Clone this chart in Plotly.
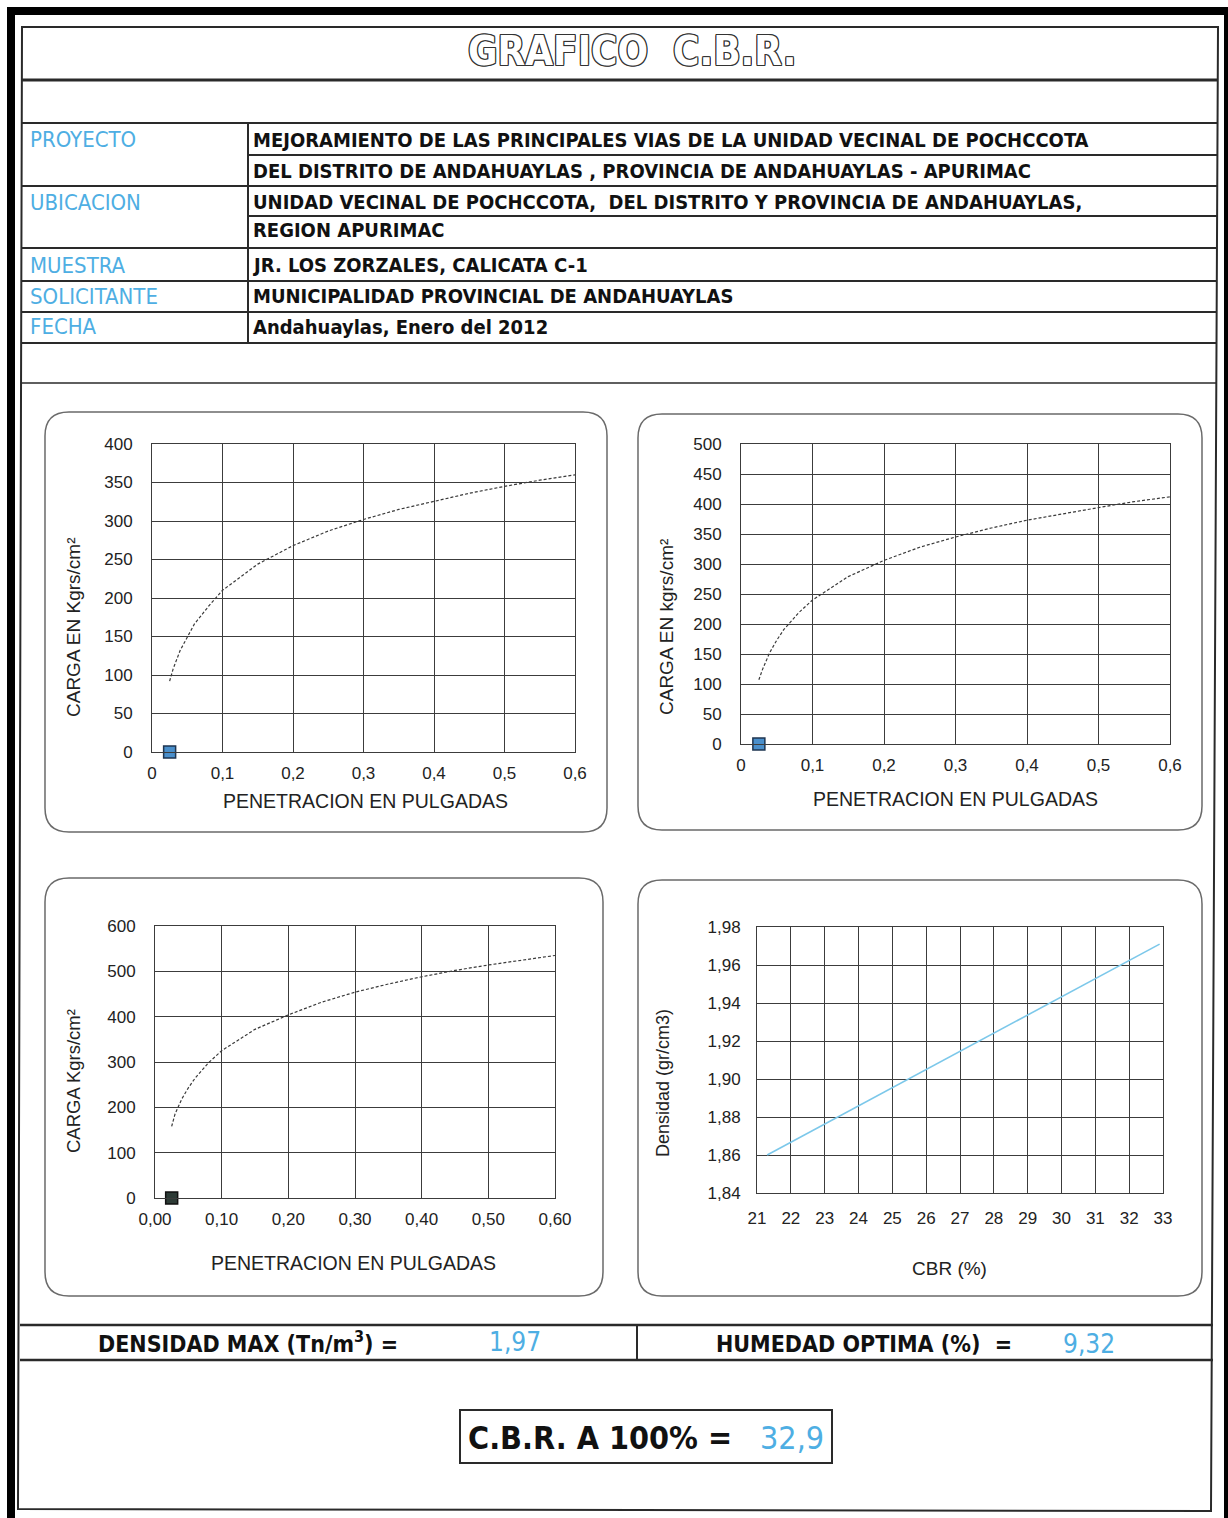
import plotly.graph_objects as go

# ---------------- data ----------------
pen_x = [0.025, 0.03, 0.04, 0.05, 0.06, 0.08, 0.10, 0.15, 0.20, 0.25, 0.30, 0.35, 0.40, 0.45, 0.50, 0.55, 0.60]
carga_1 = [92, 108, 132, 150, 166, 189, 210, 244, 268, 287, 302, 315, 326, 336, 345, 353, 360]
carga_2 = [107, 124, 152, 173, 191, 218, 240, 279, 306, 328, 345, 360, 373, 384, 394, 404, 412]
carga_3 = [158, 185, 218, 243, 264, 298, 325, 372, 404, 432, 454, 472, 488, 502, 514, 525, 535]
punto_x = [0.025]
punto_y = [0]
cbr_x = [21.3, 32.9]
dens_y = [1.860, 1.971]

ticks_pen = [0, 0.1, 0.2, 0.3, 0.4, 0.5, 0.6]
ticks_c1 = [0, 50, 100, 150, 200, 250, 300, 350, 400]
ticks_c2 = [0, 50, 100, 150, 200, 250, 300, 350, 400, 450, 500]
ticks_c3 = [0, 100, 200, 300, 400, 500, 600]
ticks_cbr = list(range(21, 34))
ticks_dens = [1.84, 1.86, 1.88, 1.90, 1.92, 1.94, 1.96, 1.98]

proyecto_1 = "MEJORAMIENTO DE LAS PRINCIPALES VIAS DE LA UNIDAD VECINAL DE POCHCCOTA"
proyecto_2 = "DEL DISTRITO DE ANDAHUAYLAS , PROVINCIA DE ANDAHUAYLAS - APURIMAC"
ubicacion_1 = "UNIDAD VECINAL DE POCHCCOTA,  DEL DISTRITO Y PROVINCIA DE ANDAHUAYLAS,"
ubicacion_2 = "REGION APURIMAC"
muestra = "JR. LOS ZORZALES, CALICATA C-1"
solicitante = "MUNICIPALIDAD PROVINCIAL DE ANDAHUAYLAS"
fecha = "Andahuaylas, Enero del 2012"
densidad_max = "1,97"
humedad_optima = "9,32"
cbr_100 = "32,9"

# ---------------- helpers ----------------
W, H = 1228, 1518
def X(px):
    return px / W
def Y(py):
    return 1 - py / H

NARROW = "Liberation Sans Narrow, DejaVu Sans Condensed, Liberation Sans, Arial"
ARIAL = "Liberation Sans, Arial"
BLUE = "#4eaee3"
GRID = "#3c3c3c"
INK = "#2a2a2a"

shapes = []
annotations = []

def line(x0, y0, x1, y1, color=INK, width=2):
    shapes.append(dict(type="line", xref="paper", yref="paper",
                       x0=X(x0), y0=Y(y0), x1=X(x1), y1=Y(y1),
                       line=dict(color=color, width=width)))

def rect(x0, y0, x1, y1, color=INK, width=2):
    shapes.append(dict(type="rect", xref="paper", yref="paper",
                       x0=X(x0), y0=Y(y0), x1=X(x1), y1=Y(y1),
                       line=dict(color=color, width=width)))

def p(a, b):
    return f"{X(a):.5f},{Y(b):.5f}"

def poly(pts, color=INK, width=2):
    path = "M " + " L ".join(p(a, b) for a, b in pts) + " Z"
    shapes.append(dict(type="path", xref="paper", yref="paper", path=path,
                       line=dict(color=color, width=width)))

def rrect(x0, y0, x1, y1, r=24, color="#6a6a6a", width=1.5):
    path = (f"M {p(x0+r, y0)} L {p(x1-r, y0)} Q {p(x1, y0)} {p(x1, y0+r)} "
            f"L {p(x1, y1-r)} Q {p(x1, y1)} {p(x1-r, y1)} "
            f"L {p(x0+r, y1)} Q {p(x0, y1)} {p(x0, y1-r)} "
            f"L {p(x0, y0+r)} Q {p(x0, y0)} {p(x0+r, y0)} Z")
    shapes.append(dict(type="path", xref="paper", yref="paper", path=path,
                       line=dict(color=color, width=width)))

def text(x, y, s, size=16, color="#111", family=ARIAL, anchor="left", weight="normal",
         angle=0, shadow=None):
    f = dict(size=size, color=color, family=family, weight=weight)
    if shadow:
        f["shadow"] = shadow
    annotations.append(dict(x=X(x), y=Y(y), xref="paper", yref="paper", text=s,
                            showarrow=False, xanchor=anchor, yanchor="middle",
                            textangle=angle, font=f))

# ---------------- frame ----------------
line(7, 11, W, 11, color="#000", width=8)
line(11, 7, 11, H, color="#000", width=8)
line(1226, 7, 1226, H, color="#000", width=4)
poly([(22, 27), (1218, 27), (1211, 1511), (18, 1509)], width=2)
line(22, 80, 1217, 80, width=3)

text(632, 51, "GRAFICO\u00a0\u00a0C.B.R.", size=40, color="#ffffff", family=NARROW,
     anchor="center", weight="bold",
     shadow="1px 0 0 #333, -1px 0 0 #333, 0 1px 0 #333, 0 -1px 0 #333, 1px 1px 0 #333, -1px -1px 0 #333, 1px -1px 0 #333, -1px 1px 0 #333")

# ---------------- info table ----------------
for yy in [123, 186, 248, 281, 312, 343]:
    line(22, yy, 1217, yy, width=2)
for yy in [155, 216]:
    line(248, yy, 1217, yy, width=2)
line(248, 123, 248, 343, width=2)

for lab, yy in [("PROYECTO", 140), ("UBICACION", 202), ("MUESTRA", 265),
                ("SOLICITANTE", 296), ("FECHA", 327)]:
    text(28, yy, lab, size=22, color=BLUE, family=NARROW)

for s, yy in [(proyecto_1, 140), (proyecto_2, 171), (ubicacion_1, 202), (ubicacion_2, 230),
              (muestra, 265), (solicitante, 296), (fecha, 327)]:
    text(251, yy, s, size=20, color="#111", family=NARROW, weight="bold")

# charts area
line(22, 383, 1217, 383, width=1.5)
rrect(45, 412, 607, 832)
rrect(638, 414, 1202, 830)
rrect(45, 878, 603, 1296)
rrect(638, 880, 1202, 1296)

# ---------------- bottom section ----------------
line(20, 1325, 1213, 1325, width=2.5)
line(20, 1360, 1213, 1360, width=2.5)
line(637, 1325, 637, 1360, width=2)
text(248, 1342, "DENSIDAD MAX (Tn/m<sup>3</sup>) =", size=23, family=NARROW, anchor="center", weight="bold")
text(515, 1342, densidad_max, size=26, color=BLUE, family=NARROW, anchor="center")
text(864, 1344, "HUMEDAD OPTIMA (%)  =", size=23, family=NARROW, anchor="center", weight="bold")
text(1089, 1344, humedad_optima, size=26, color=BLUE, family=NARROW, anchor="center")
rect(460, 1410, 832, 1463, width=2)
text(600, 1438, "C.B.R. A 100% =", size=32, family=NARROW, anchor="center", weight="bold")
text(792, 1438, cbr_100, size=32, color=BLUE, family=NARROW, anchor="center")

# ---------------- charts ----------------
fig = go.Figure()

curve_line = dict(color="#3a3a3a", width=1.2, dash="3px,2px")
TICKFONT = dict(family=ARIAL, size=17, color="#222")

def add_chart(n, xs, ys, px_x, px_y, xr, yr, xt, yt, xfmt, yfmt, marker_fill, marker_line):
    xa = f"x{n}" if n > 1 else "x"
    ya = f"y{n}" if n > 1 else "y"
    fig.add_trace(go.Scatter(x=xs, y=ys, mode="lines", line=curve_line,
                             xaxis=xa, yaxis=ya, showlegend=False, hoverinfo="skip"))
    fig.add_trace(go.Scatter(x=punto_x, y=punto_y, mode="markers",
                             marker=dict(symbol="square", size=12, color=marker_fill,
                                         line=dict(color=marker_line, width=1.5)),
                             cliponaxis=False, xaxis=xa, yaxis=ya, showlegend=False))
    ax = dict(domain=[X(px_x[0]), X(px_x[1])], range=xr, tickvals=xt, tickformat=xfmt,
              showgrid=True, gridcolor=GRID, gridwidth=1, zeroline=False,
              showline=True, linecolor=GRID, linewidth=1, mirror=True,
              ticks="", ticklabelstandoff=6, tickfont=TICKFONT, anchor=ya)
    ay = dict(domain=[Y(px_y[0]), Y(px_y[1])], range=yr, tickvals=yt, tickformat=yfmt,
              showgrid=True, gridcolor=GRID, gridwidth=1, zeroline=False,
              showline=True, linecolor=GRID, linewidth=1, mirror=True,
              ticks="", ticklabelstandoff=15, tickfont=TICKFONT, anchor=xa)
    key = "" if n == 1 else str(n)
    fig.update_layout(**{f"xaxis{key}": ax, f"yaxis{key}": ay})

add_chart(1, pen_x, carga_1, (152, 575), (752, 444), [0, 0.6], [0, 400],
          ticks_pen, ticks_c1, "", "", "#4a8fcb", "#1e3550")
add_chart(2, pen_x, carga_2, (741, 1170), (744, 444), [0, 0.6], [0, 500],
          ticks_pen, ticks_c2, "", "", "#4a8fcb", "#1e3550")
add_chart(3, pen_x, carga_3, (155, 555), (1198, 926), [0, 0.6], [0, 600],
          ticks_pen, ticks_c3, ".2f", "", "#2d3b36", "#111")

fig.add_trace(go.Scatter(x=cbr_x, y=dens_y, mode="lines",
                         line=dict(color="#7cc8ea", width=1.6),
                         xaxis="x4", yaxis="y4", showlegend=False, hoverinfo="skip"))
fig.update_layout(
    xaxis4=dict(domain=[X(757), X(1163)], range=[21, 33], tickvals=ticks_cbr,
                showgrid=True, gridcolor=GRID, gridwidth=1, zeroline=False,
                showline=True, linecolor=GRID, linewidth=1, mirror=True,
                ticks="", ticklabelstandoff=10, tickfont=TICKFONT, anchor="y4"),
    yaxis4=dict(domain=[Y(1193), Y(927)], range=[1.84, 1.98], tickvals=ticks_dens,
                tickformat=".2f",
                showgrid=True, gridcolor=GRID, gridwidth=1, zeroline=False,
                showline=True, linecolor=GRID, linewidth=1, mirror=True,
                ticks="", ticklabelstandoff=12, tickfont=TICKFONT, anchor="x4"),
)

# axis titles
text(365, 801, "PENETRACION EN PULGADAS", size=19.5, color="#222", anchor="center")
text(73, 628, "CARGA EN Kgrs/cm²", size=19, color="#222", anchor="center", angle=-90)
text(955, 799, "PENETRACION EN PULGADAS", size=19.5, color="#222", anchor="center")
text(666, 627, "CARGA EN kgrs/cm²", size=19, color="#222", anchor="center", angle=-90)
text(353, 1263, "PENETRACION EN PULGADAS", size=19.5, color="#222", anchor="center")
text(73, 1081, "CARGA Kgrs/cm²", size=18.5, color="#222", anchor="center", angle=-90)
text(949, 1268, "CBR (%)", size=19, color="#222", anchor="center")
text(663, 1083, "Densidad (gr/cm3)", size=18, color="#222", anchor="center", angle=-90)

fig.update_layout(
    width=W, height=H,
    margin=dict(l=0, r=0, t=0, b=0, pad=0, autoexpand=False),
    paper_bgcolor="white", plot_bgcolor="rgba(0,0,0,0)",
    separators=",.",
    shapes=shapes, annotations=annotations,
    showlegend=False,
)

fig.write_html("out.html", config={"displayModeBar": False},
               post_script="document.body.style.margin='0';document.body.style.overflow='hidden';")
